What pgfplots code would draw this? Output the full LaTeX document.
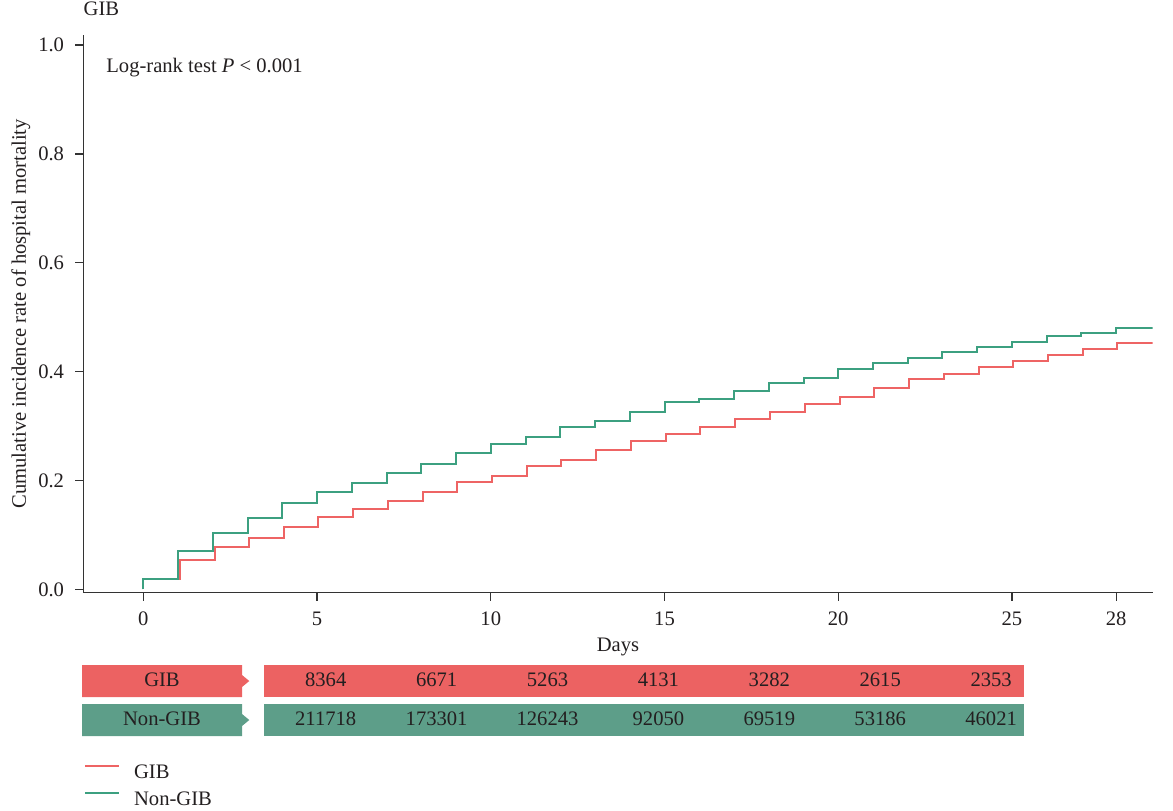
\documentclass[border=0pt]{standalone}
\usepackage{pgfplots}
\pgfplotsset{compat=1.18}
\usepackage{fontspec}
\setmainfont{Liberation Serif}
\definecolor{gibline}{HTML}{EE6464}
\definecolor{nonline}{HTML}{3CA080}
\definecolor{gibbar}{HTML}{EC6262}
\definecolor{nonbar}{HTML}{5D9E89}
\definecolor{axisgray}{HTML}{333333}
\definecolor{txt}{HTML}{231F20}
\begin{document}
\fontsize{10.3}{12.4}\selectfont
\begin{tikzpicture}[font=\fontsize{10.3}{12.4}\selectfont]
\useasboundingbox (0pt,0pt) rectangle (586.5pt,-405pt);
\begin{axis}[
  at={(41.65pt,-296.35pt)}, anchor=south west,
  scale only axis, width=534.7pt, height=278.85pt,
  xmin=-1.727, xmax=29.05, ymin=-0.00625, ymax=1.0184,
  axis x line*=bottom, axis y line*=left,
  axis line style={axisgray, line width=0.65pt},
  tick style={axisgray, line width=0.65pt},
  major tick length=4pt, tick align=outside,
  xtick={0,5,10,15,20,25,28}, ytick={0,0.2,0.4,0.6,0.8,1.0},
  /pgf/number format/assume math mode=true,
  ticklabel style={text=txt},
  y tick label style={/pgf/number format/fixed, /pgf/number format/fixed zerofill, /pgf/number format/precision=1, xshift=-2pt},
  x tick label style={yshift=-2pt},
  xlabel={Days}, xlabel style={at={(axis description cs:0.5,-0.1063)}, anchor=base, text=txt},
  ylabel={Cumulative incidence rate of hospital mortality},
  ylabel style={at={(axis description cs:-0.0536,0.5)}, anchor=base, text=txt},
  title={GIB}, title style={at={(axis description cs:0,1.0143)}, anchor=base west, inner sep=0pt, text=txt},
  legend style={at={(axis description cs:0.00065,-0.3072)}, anchor=north west, draw=none, fill=none,
    inner sep=0pt, row sep=6.65pt, column sep=0pt,
    nodes={inner sep=0pt, text height=7pt, text depth=0pt, text=txt}},
  legend cell align=left,
  legend image code/.code={\path (0pt,0pt); \draw[#1] (0pt,2.65pt) -- (17pt,2.65pt); \path (23.85pt,0pt);},
]
\addplot[const plot, gibline, line width=1pt] coordinates {
(0,0) (0,0.0196) (1.05,0.0538) (2.05,0.0777) (3.04,0.095) (4.04,0.1138) (5.04,0.1333) (6.04,0.148) (7.04,0.1615) (8.04,0.179) (9.03,0.1976) (10.03,0.208) (11.03,0.2257) (12.03,0.2385) (13.03,0.2563) (14.04,0.2728) (15.04,0.285) (16.03,0.2985) (17.04,0.3138) (18.04,0.326) (19.03,0.3407) (20.04,0.353) (21.03,0.370) (22.03,0.386) (23.03,0.396) (24.04,0.4086) (25.03,0.420) (26.04,0.431) (27.03,0.441) (28.03,0.4527) (29.05,0.4527)
};
\addlegendentry{GIB}
\addplot[const plot, nonline, line width=1pt] coordinates {
(0,0) (0,0.0196) (1,0.0703) (2,0.104) (3,0.1316) (4,0.158) (5,0.1786) (6,0.1957) (7,0.214) (8,0.2306) (9,0.250) (10,0.2666) (11,0.2807) (12,0.2985) (13,0.3095) (14,0.326) (15,0.3437) (16,0.3505) (17,0.3646) (18,0.379) (19,0.389) (20,0.405) (21,0.416) (22,0.425) (23,0.436) (24,0.446) (25,0.455) (26,0.4648) (27,0.4703) (28,0.4807) (29.05,0.4807)
};
\addlegendentry{Non-GIB}
\node[anchor=base west, inner sep=0pt, text=txt] at (axis description cs:0.0212,0.9319) {Log-rank test \textit{P} < 0.001};
\end{axis}
% risk table
\begin{axis}[
  at={(41pt,-368pt)}, anchor=south west,
  scale only axis, width=471pt, height=35.5pt,
  xmin=82, xmax=1024, ymin=665, ymax=736, y dir=reverse,
  hide axis, clip=false,
]
\fill[gibbar] (axis cs:82,665) -- (axis cs:242,665) -- (axis cs:242,675) -- (axis cs:249.3,681) -- (axis cs:242,687) -- (axis cs:242,697) -- (axis cs:82,697) -- cycle;
\fill[gibbar] (axis cs:264,665) rectangle (axis cs:1024,697);
\fill[nonbar] (axis cs:82,704) -- (axis cs:242,704) -- (axis cs:242,714) -- (axis cs:249.3,720) -- (axis cs:242,726) -- (axis cs:242,736) -- (axis cs:82,736) -- cycle;
\fill[nonbar] (axis cs:264,704) rectangle (axis cs:1024,736);
\addplot[only marks, mark=*, mark size=0pt, mark options={draw=none,fill=none},
  nodes near coords, point meta=explicit symbolic,
  nodes near coords style={anchor=base, inner sep=0pt, text=txt}]
  table[meta=n] {
x y n
162 686 GIB
325.7 686 8364
436.6 686 6671
547.5 686 5263
658.4 686 4131
769.3 686 3282
880.2 686 2615
991.1 686 2353
162 725 Non-GIB
325.7 725 211718
436.6 725 173301
547.5 725 126243
658.4 725 92050
769.3 725 69519
880.2 725 53186
991.1 725 46021
};
\end{axis}
\end{tikzpicture}
\end{document}
